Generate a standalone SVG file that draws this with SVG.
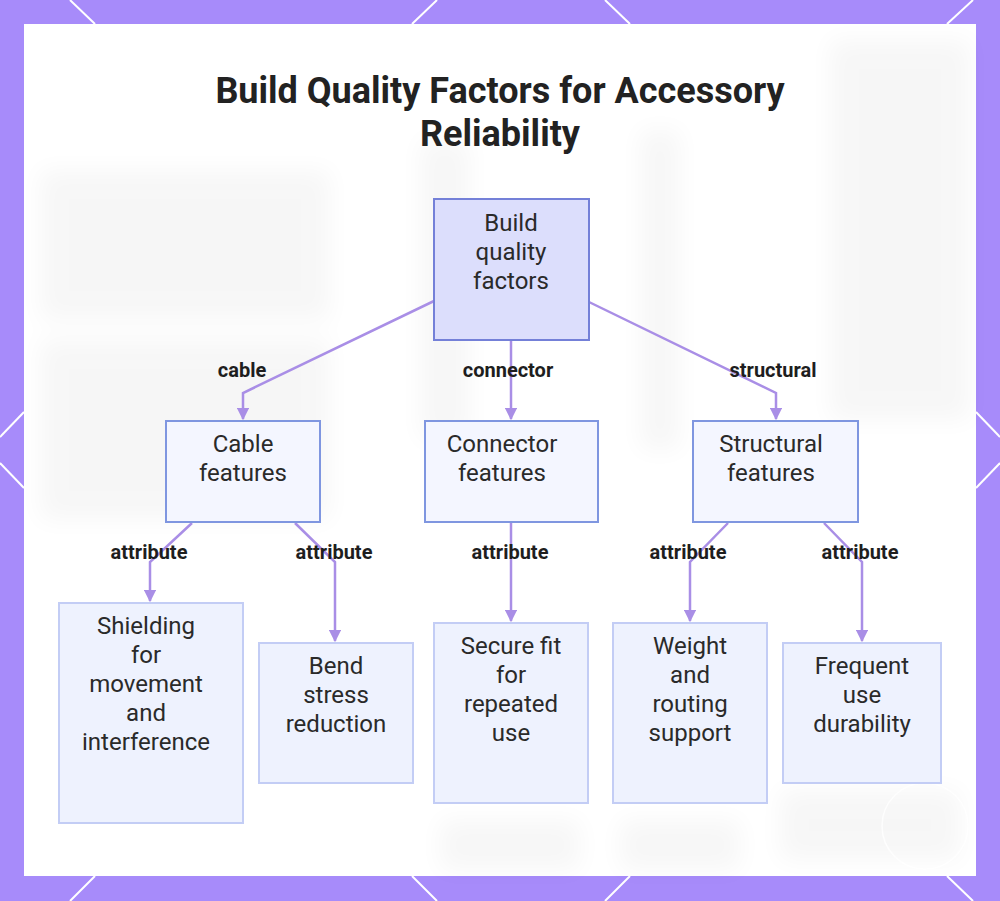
<svg xmlns="http://www.w3.org/2000/svg" width="1000" height="901" viewBox="0 0 1000 901">
<defs>
<style>
.title{font-family:Roboto,"Liberation Sans",sans-serif;font-weight:700;font-size:36px;fill:#222;text-anchor:middle}
.nt{font-family:Roboto,"Liberation Sans",sans-serif;font-size:24px;fill:#2a2a2a;text-anchor:middle}
.lb{font-family:Roboto,"Liberation Sans",sans-serif;font-weight:700;font-size:20px;fill:#1e1e1e;text-anchor:middle}
.root{fill:#dcdefc;stroke:#7480d8;stroke-width:2}
.mid{fill:#f4f6ff;stroke:#7f96e0;stroke-width:2}
.leaf{fill:#eef2fe;stroke:#c3cdf5;stroke-width:2}
.edge{fill:none;stroke:#a98ee6;stroke-width:2.5}
.bl{stroke:#fff;stroke-width:2}
</style>
<marker id="arr" viewBox="0 0 10 10" refX="9" refY="5" markerWidth="5" markerHeight="5" orient="auto">
<path d="M0,0 L10,5 L0,10 z" fill="#a98ee6"/>
</marker>
<filter id="blur" x="-50%" y="-50%" width="200%" height="200%"><feGaussianBlur stdDeviation="12"/></filter>
</defs>
<rect x="0" y="0" width="1000" height="901" fill="#a78bfa"/>
<g class="bl">
<line x1="70" y1="0" x2="95" y2="24"/><line x1="437" y1="0" x2="412" y2="24"/>
<line x1="605" y1="0" x2="630" y2="24"/><line x1="973" y1="0" x2="947" y2="24"/>
<line x1="95" y1="876" x2="70" y2="901"/><line x1="412" y1="876" x2="437" y2="901"/>
<line x1="630" y1="876" x2="605" y2="901"/><line x1="947" y1="876" x2="973" y2="901"/>
<line x1="24" y1="412" x2="0" y2="437"/><line x1="0" y1="463" x2="24" y2="488"/>
<line x1="976" y1="412" x2="1000" y2="437"/><line x1="1000" y1="463" x2="976" y2="488"/>
</g>
<rect x="24" y="24" width="952" height="852" fill="#ffffff"/>
<g id="backdrop" filter="url(#blur)" fill="#000" opacity="0.03">
<rect x="40" y="170" width="290" height="150"/>
<rect x="40" y="340" width="290" height="180"/>
<rect x="420" y="140" width="50" height="300"/>
<rect x="640" y="130" width="40" height="320"/>
<rect x="830" y="40" width="140" height="380"/>
<rect x="440" y="820" width="140" height="50"/>
<rect x="620" y="820" width="120" height="50"/>
<rect x="780" y="790" width="180" height="70"/>
</g>
<circle cx="925" cy="826" r="43" fill="none" stroke="#fff" stroke-width="1.5" opacity="0.8"/>
<text class="title" x="500" y="103">Build Quality Factors for Accessory</text>
<text class="title" x="500" y="146">Reliability</text>
<g id="connectors">
<path class="edge" d="M434,301 L243,393 L243,419" marker-end="url(#arr)"/>
<path class="edge" d="M511,341 L511,419" marker-end="url(#arr)"/>
<path class="edge" d="M589,302 L776,393 L776,419" marker-end="url(#arr)"/>
<path class="edge" d="M192,523 L150,562 L150,601" marker-end="url(#arr)"/>
<path class="edge" d="M295,523 L335,562 L335,641" marker-end="url(#arr)"/>
<path class="edge" d="M511,523 L511,621" marker-end="url(#arr)"/>
<path class="edge" d="M728,523 L690,562 L690,621" marker-end="url(#arr)"/>
<path class="edge" d="M824,523 L862,562 L862,641" marker-end="url(#arr)"/>
<text class="lb" x="242" y="377">cable</text>
<text class="lb" x="508" y="377">connector</text>
<text class="lb" x="773" y="377">structural</text>
<text class="lb" x="149" y="559">attribute</text>
<text class="lb" x="334" y="559">attribute</text>
<text class="lb" x="510" y="559">attribute</text>
<text class="lb" x="688" y="559">attribute</text>
<text class="lb" x="860" y="559">attribute</text>
</g>
<g id="root"><rect class="root" x="434" y="199" width="155" height="141"/>
<text class="nt" x="511" y="231">Build</text><text class="nt" x="511" y="260">quality</text><text class="nt" x="511" y="289">factors</text></g>
<g id="cable"><rect class="mid" x="166" y="421" width="154" height="101"/>
<text class="nt" x="243" y="452">Cable</text><text class="nt" x="243" y="481">features</text></g>
<g id="connector"><rect class="mid" x="425" y="421" width="173" height="101"/>
<text class="nt" x="502" y="452">Connector</text><text class="nt" x="502" y="481">features</text></g>
<g id="structural"><rect class="mid" x="693" y="421" width="165" height="101"/>
<text class="nt" x="771" y="452">Structural</text><text class="nt" x="771" y="481">features</text></g>
<g id="shielding"><rect class="leaf" x="59" y="603" width="184" height="220"/>
<text class="nt" x="146" y="634">Shielding</text><text class="nt" x="146" y="663">for</text><text class="nt" x="146" y="692">movement</text><text class="nt" x="146" y="721">and</text><text class="nt" x="146" y="750">interference</text></g>
<g id="bend"><rect class="leaf" x="259" y="643" width="154" height="140"/>
<text class="nt" x="336" y="674">Bend</text><text class="nt" x="336" y="703">stress</text><text class="nt" x="336" y="732">reduction</text></g>
<g id="secure"><rect class="leaf" x="434" y="623" width="154" height="180"/>
<text class="nt" x="511" y="654">Secure fit</text><text class="nt" x="511" y="683">for</text><text class="nt" x="511" y="712">repeated</text><text class="nt" x="511" y="741">use</text></g>
<g id="weight"><rect class="leaf" x="613" y="623" width="154" height="180"/>
<text class="nt" x="690" y="654">Weight</text><text class="nt" x="690" y="683">and</text><text class="nt" x="690" y="712">routing</text><text class="nt" x="690" y="741">support</text></g>
<g id="frequent"><rect class="leaf" x="783" y="643" width="158" height="140"/>
<text class="nt" x="862" y="674">Frequent</text><text class="nt" x="862" y="703">use</text><text class="nt" x="862" y="732">durability</text></g>
</svg>
